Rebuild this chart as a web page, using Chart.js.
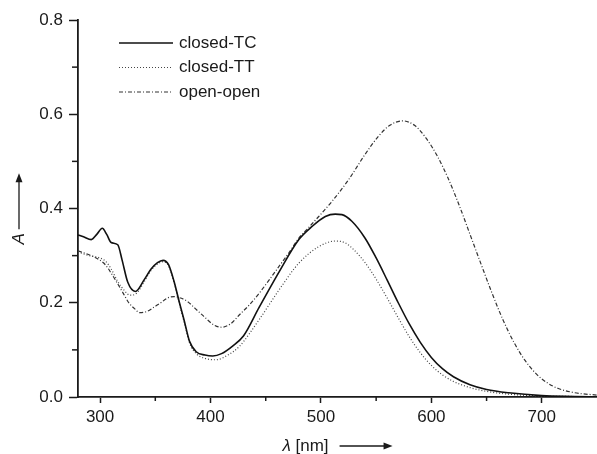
<!DOCTYPE html>
<html>
<head>
<meta charset="utf-8">
<script src="https://cdn.jsdelivr.net/npm/chart.js@4"></script>
<style>
  body { margin: 0; background: #fff; }
  canvas { display: block; }
</style>
</head>
<body>
<canvas id="chart" width="597" height="454"></canvas>
<script>
// Wavelengths (nm) and absorbance
const tcNm = [280, 285, 292, 297, 302, 306, 310, 316, 320, 325, 332, 340, 346, 352, 357, 362, 367, 372, 376, 381, 387, 395, 402, 410, 420, 430, 444, 462, 480, 492, 504, 513, 519, 528, 540, 550, 560, 570, 580, 590, 600, 610, 620, 635, 650, 670, 700, 730, 750];
const tcA = [0.344, 0.340, 0.334, 0.345, 0.358, 0.345, 0.328, 0.323, 0.290, 0.244, 0.224, 0.249, 0.271, 0.285, 0.290, 0.281, 0.245, 0.199, 0.164, 0.118, 0.096, 0.089, 0.087, 0.092, 0.108, 0.130, 0.190, 0.265, 0.334, 0.362, 0.383, 0.388, 0.387, 0.373, 0.337, 0.295, 0.248, 0.200, 0.155, 0.116, 0.084, 0.060, 0.043, 0.026, 0.016, 0.009, 0.003, 0.001, 0.0];

const ttNm = [280, 290, 300, 305, 310, 316, 322, 327, 333, 340, 346, 352, 357, 362, 367, 372, 376, 381, 387, 395, 405, 415, 426, 444, 462, 480, 498, 513, 522, 530, 540, 550, 560, 570, 580, 590, 600, 610, 620, 635, 650, 670, 700, 730, 750];
const ttA = [0.308, 0.300, 0.295, 0.288, 0.272, 0.245, 0.226, 0.216, 0.220, 0.245, 0.268, 0.282, 0.287, 0.278, 0.243, 0.196, 0.160, 0.115, 0.092, 0.082, 0.079, 0.088, 0.107, 0.164, 0.227, 0.284, 0.319, 0.331, 0.327, 0.312, 0.285, 0.250, 0.210, 0.168, 0.128, 0.094, 0.067, 0.047, 0.033, 0.020, 0.012, 0.006, 0.002, 0.001, 0.0];

const ooNm = [280, 290, 300, 305, 310, 316, 321, 326, 331, 336, 343, 349, 355, 361, 367, 373, 379, 386, 394, 403, 410, 418, 426, 435, 444, 453, 462, 471, 480, 489, 498, 510, 525, 540, 552, 562, 574, 585, 595, 605, 615, 625, 635, 645, 655, 665, 675, 685, 695, 705, 715, 730, 750];
const ooA = [0.310, 0.302, 0.290, 0.280, 0.263, 0.240, 0.220, 0.200, 0.188, 0.179, 0.182, 0.191, 0.200, 0.210, 0.213, 0.210, 0.203, 0.188, 0.171, 0.153, 0.148, 0.155, 0.174, 0.195, 0.220, 0.248, 0.277, 0.306, 0.337, 0.360, 0.383, 0.415, 0.461, 0.515, 0.553, 0.576, 0.586, 0.576, 0.550, 0.513, 0.465, 0.408, 0.345, 0.282, 0.220, 0.163, 0.115, 0.077, 0.049, 0.030, 0.018, 0.009, 0.004];

const seriesNames = ['closed-TC', 'closed-TT', 'open-open'];
const xMajor = [300, 400, 500, 600, 700];
const xMinor = [350, 450, 550, 650];
const yMajor = [0.0, 0.2, 0.4, 0.6, 0.8];
const yMinor = [0.1, 0.3, 0.5, 0.7];

const FONT = '"Liberation Sans", Arial, Helvetica, sans-serif';
const INK = '#1a1a1a';

function toPoints(xs, ys) {
    return xs.map((x, i) => ({ x: x, y: ys[i] }));
}

const styles = [
    { color: '#111', width: 1.6, dash: [] },
    { color: '#444', width: 1.2, dash: [1, 2] },
    { color: '#333', width: 1.2, dash: [4, 2, 1, 2] }
];

function drawArrow(ctx, x, y, len) {
    ctx.beginPath();
    ctx.moveTo(x, y);
    ctx.lineTo(x + len - 6, y);
    ctx.stroke();
    ctx.beginPath();
    ctx.moveTo(x + len, y);
    ctx.lineTo(x + len - 9, y - 3.5);
    ctx.lineTo(x + len - 9, y + 3.5);
    ctx.closePath();
    ctx.fill();
}

// Minor ticks, legend and axis titles
const extras = {
    id: 'extras',
    afterDraw(chart) {
        const ctx = chart.ctx;
        const area = chart.chartArea;
        const xs = chart.scales.x, ys = chart.scales.y;
        ctx.save();
        ctx.strokeStyle = INK;
        ctx.lineWidth = 1.5;
        xMinor.forEach(v => {
            const px = xs.getPixelForValue(v);
            ctx.beginPath();
            ctx.moveTo(px, area.bottom);
            ctx.lineTo(px, area.bottom + 4);
            ctx.stroke();
        });
        yMinor.forEach(v => {
            const py = ys.getPixelForValue(v);
            ctx.beginPath();
            ctx.moveTo(area.left - 6, py);
            ctx.lineTo(area.left, py);
            ctx.stroke();
        });

        // legend
        ctx.font = '17px ' + FONT;
        ctx.textBaseline = 'middle';
        ctx.fillStyle = INK;
        seriesNames.forEach((name, i) => {
            const y = area.top + 23 + i * 24.5;
            const st = styles[i];
            ctx.strokeStyle = st.color;
            ctx.lineWidth = st.width;
            ctx.setLineDash(st.dash);
            ctx.beginPath();
            ctx.moveTo(area.left + 41, y);
            ctx.lineTo(area.left + 95, y);
            ctx.stroke();
            ctx.setLineDash([]);
            ctx.fillText(name, area.left + 101, y);
        });

        ctx.strokeStyle = INK;
        ctx.fillStyle = INK;
        ctx.lineWidth = 1.3;
        const arrowLen = 53;

        // x title: italic lambda, unit and arrow
        const cx = (area.left + area.right) / 2;
        const ty = area.bottom + 49;
        ctx.font = 'italic 17px ' + FONT;
        const lamW = ctx.measureText('λ').width;
        ctx.font = '17px ' + FONT;
        const unit = ' [nm]';
        const unitW = ctx.measureText(unit).width;
        const gap = 11;
        const x0 = cx - (lamW + unitW + gap + arrowLen) / 2;
        ctx.textAlign = 'left';
        ctx.font = 'italic 17px ' + FONT;
        ctx.fillText('λ', x0, ty);
        ctx.font = '17px ' + FONT;
        ctx.fillText(unit, x0 + lamW, ty);
        drawArrow(ctx, x0 + lamW + unitW + gap, ty, arrowLen);

        // y title: italic A with upward arrow
        const cy = (area.top + area.bottom) / 2;
        ctx.save();
        ctx.translate(19, cy);
        ctx.rotate(-Math.PI / 2);
        ctx.font = 'italic 17px ' + FONT;
        const aW = ctx.measureText('A').width;
        const start = -36;
        ctx.fillText('A', start, 0);
        drawArrow(ctx, start + aW + 4, 0, arrowLen + 3);
        ctx.restore();

        ctx.restore();
    }
};

const allData = [toPoints(tcNm, tcA), toPoints(ttNm, ttA), toPoints(ooNm, ooA)];

new Chart(document.getElementById('chart'), {
    type: 'line',
    data: {
        datasets: allData.map((pts, i) => ({
            label: seriesNames[i],
            data: pts,
            borderColor: styles[i].color,
            borderWidth: styles[i].width,
            borderDash: styles[i].dash,
            pointRadius: 0,
            fill: false,
            cubicInterpolationMode: 'monotone'
        }))
    },
    options: {
        responsive: false,
        animation: false,
        layout: { padding: { top: 20, right: 0, left: 0, bottom: 0 } },
        plugins: { legend: { display: false }, tooltip: { enabled: false } },
        scales: {
            x: {
                type: 'linear',
                min: 280,
                max: 750,
                afterBuildTicks: s => { s.ticks = xMajor.map(v => ({ value: v })); },
                afterFit: s => { s.height = 57; },
                grid: { drawOnChartArea: false, drawTicks: true, tickLength: 6, tickColor: INK, tickWidth: 1.5 },
                border: { display: true, color: INK, width: 1.8 },
                ticks: { color: INK, font: { family: FONT, size: 17 }, padding: 4, maxRotation: 0, callback: v => String(v) }
            },
            y: {
                min: 0,
                max: 0.8,
                afterBuildTicks: s => { s.ticks = yMajor.map(v => ({ value: v })); },
                afterFit: s => { s.width = 78; },
                grid: { drawOnChartArea: false, drawTicks: true, tickLength: 9, tickColor: INK, tickWidth: 1.5 },
                border: { display: true, color: INK, width: 1.8 },
                ticks: { color: INK, font: { family: FONT, size: 17 }, padding: 6, callback: v => v.toFixed(1) }
            }
        }
    },
    plugins: [extras]
});
</script>
</body>
</html>
